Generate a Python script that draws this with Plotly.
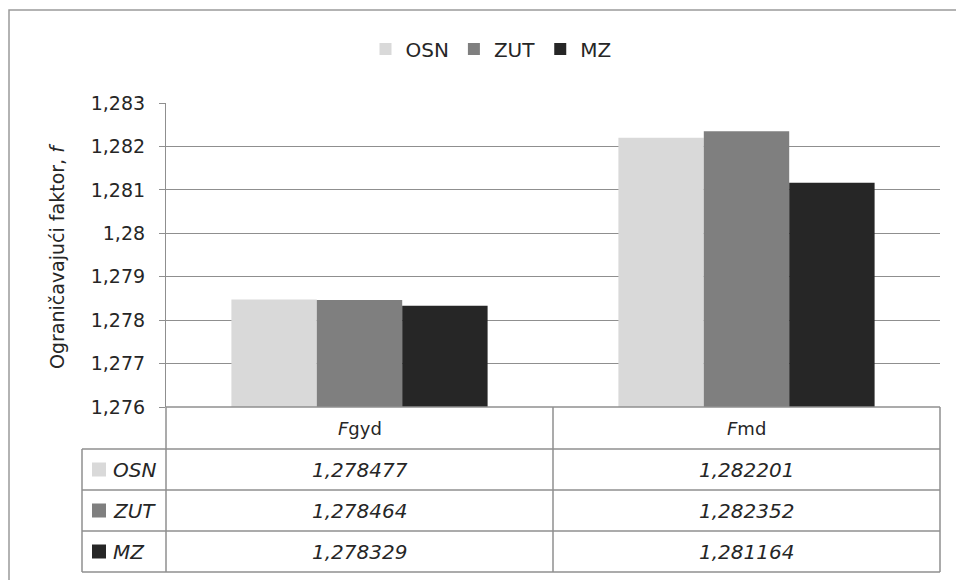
import plotly.graph_objects as go

# Limiting factor per method and load case
categories = ["Fgyd", "Fmd"]
category_labels = ["<i>F</i>gyd", "<i>F</i>md"]
series_names = ["OSN", "ZUT", "MZ"]
osn_values = [1.278477, 1.282201]
zut_values = [1.278464, 1.282352]
mz_values = [1.278329, 1.281164]
series_values = [osn_values, zut_values, mz_values]
series_colors = ["#d9d9d9", "#7f7f7f", "#262626"]

tick_values = [1.276, 1.277, 1.278, 1.279, 1.280, 1.281, 1.282, 1.283]
tick_labels = ["1,276", "1,277", "1,278", "1,279", "1,28", "1,281", "1,282", "1,283"]
y_title = "Ograničavajući faktor, <i>f</i>"

W, H = 956, 580
L, R, T, B = 166, 940, 103, 407  # plot area in pixels
FONT = "DejaVu Sans"
TXT = "#262626"
LINE = "#8f8f8f"


def px(x):
    return (x - L) / (R - L)


def py(y):
    return (B - y) / (B - T)


fig = go.Figure()
for name, vals, col in zip(series_names, series_values, series_colors):
    fig.add_trace(go.Bar(x=categories, y=vals, name=name, marker=dict(color=col, line=dict(width=0))))

shapes = []


def hline(y, x0, x1, w=1.5):
    shapes.append(dict(type="line", xref="paper", yref="paper", x0=px(x0), x1=px(x1),
                       y0=py(y), y1=py(y), line=dict(color=LINE, width=w)))


def vline(x, y0, y1, w=1.5):
    shapes.append(dict(type="line", xref="paper", yref="paper", x0=px(x), x1=px(x),
                       y0=py(y0), y1=py(y1), line=dict(color=LINE, width=w)))


# outer chart frame
shapes.append(dict(type="rect", xref="paper", yref="paper", x0=px(9), x1=px(975),
                   y0=py(600), y1=py(10), line=dict(color="#9a9a9a", width=1.5)))

# data table grid
row_y = [449, 490, 531, 572]
hline(B, L, R)
for y in row_y:
    hline(y, 82, R)
vline(82, 449, 572)
vline(L, B, 572)
vline(553, B, 572)
vline(R, B, 572)

annotations = []
# header row: category names
for cat, lab in zip(categories, category_labels):
    annotations.append(dict(x=cat, xref="x", y=py(428), yref="paper", text=lab, showarrow=False,
                            font=dict(family=FONT, size=18, color=TXT), xanchor="center", yanchor="middle"))

# series rows: legend key, name, values
for i, (name, vals, col) in enumerate(zip(series_names, series_values, series_colors)):
    yc = (row_y[i] + row_y[i + 1]) / 2
    shapes.append(dict(type="rect", xref="paper", yref="paper", x0=px(92), x1=px(106),
                       y0=py(yc + 7), y1=py(yc - 7), fillcolor=col, line=dict(width=0)))
    annotations.append(dict(x=px(111), xref="paper", y=py(yc), yref="paper", text=f"<i>{name}</i>",
                            showarrow=False, xanchor="left", yanchor="middle",
                            font=dict(family=FONT, size=20, color=TXT)))
    for cat, v in zip(categories, vals):
        annotations.append(dict(x=cat, xref="x", y=py(yc), yref="paper",
                                text="<i>" + f"{v:.6f}".replace(".", ",") + "</i>",
                                showarrow=False, xanchor="center", yanchor="middle",
                                font=dict(family=FONT, size=20, color=TXT)))

# vertical axis title
annotations.append(dict(x=px(57), xref="paper", y=py(256), yref="paper", text=y_title, textangle=-90,
                        showarrow=False, xanchor="center", yanchor="middle",
                        font=dict(family=FONT, size=19, color=TXT)))

fig.update_layout(
    width=W, height=H,
    margin=dict(l=L, r=W - R, t=T, b=H - B),
    paper_bgcolor="white", plot_bgcolor="white",
    barmode="group", bargap=0.338, bargroupgap=0,
    showlegend=True,
    legend=dict(orientation="h", x=px(491), xanchor="center", y=py(49), yanchor="middle",
                font=dict(family=FONT, size=20, color=TXT), bgcolor="rgba(0,0,0,0)",
                itemwidth=30, tracegroupgap=0),
    xaxis=dict(showticklabels=False, showgrid=False, showline=False, zeroline=False, ticks=""),
    yaxis=dict(range=[1.276, 1.283], tickvals=tick_values, ticktext=tick_labels,
               showgrid=True, gridcolor=LINE, gridwidth=1.2,
               showline=True, linecolor=LINE, linewidth=1.2,
               ticks="outside", ticklen=6, tickcolor=LINE, ticklabelstandoff=10,
               zeroline=False, tickfont=dict(family=FONT, size=19, color=TXT)),
    shapes=shapes, annotations=annotations,
    font=dict(family=FONT, color=TXT),
)

fig.write_html("out.html")
